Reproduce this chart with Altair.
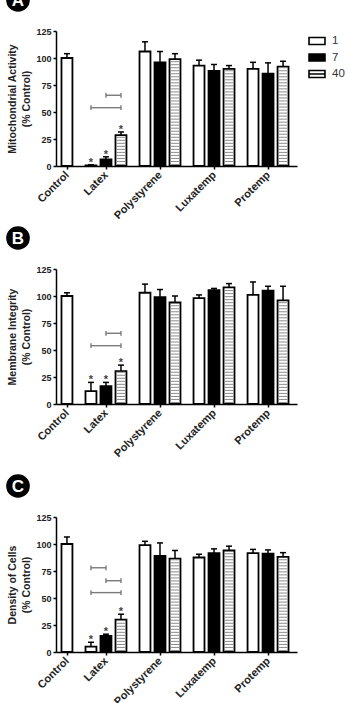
import altair as alt
import pandas as pd

# ---------------- data ----------------
groups = ["Control", "Latex", "Polystyrene", "Luxatemp", "Protemp"]
series = ["1", "7", "40"]

bar_group = ["Control"] + [g for g in groups[1:] for _ in range(3)]
bar_series = ["1"] + series * 4

# Panel A: Mitochondrial Activity (% Control)
mito_mean = [100, 0.6, 6, 28.5, 106, 96, 99, 93, 88, 90, 90, 85.5, 92]
mito_err = [4, 0.6, 2.5, 3, 9, 10, 5, 5, 6, 3, 6, 10, 5]
# Panel B: Membrane Integrity (% Control)
memb_mean = [100, 12, 16.5, 30.5, 103, 99, 94, 98, 105.5, 108, 101, 105, 96]
memb_err = [3, 8, 3.5, 5.5, 8, 7, 6, 3, 1.5, 3.5, 12, 4, 13]
# Panel C: Density of Cells (% Control)
dens_mean = [100, 5, 15, 30, 99, 89, 86.5, 87.5, 91.5, 94, 91.5, 91, 88]
dens_err = [6.5, 4, 1.5, 5, 3.5, 12, 7.5, 3, 4, 4, 3.5, 3.5, 4]

# significance asterisks (Latex bars)
sig_flags = [False, True, True, True] + [False] * 9

# comparison brackets within Latex group: (from series, to series, height)
mito_br_from, mito_br_to, mito_br_at = ["7", "1"], ["40", "40"], [65.5, 54]
memb_br_from, memb_br_to, memb_br_at = ["7", "1"], ["40", "40"], [65.5, 54]
dens_br_from, dens_br_to, dens_br_at = ["1", "7", "1"], ["7", "40", "40"], [78, 66, 55]

# ---------------- layout helpers ----------------
GAP = 0.6
HALF = 0.365


def bar_pos(g_idx, s_idx):
    if g_idx == 0:
        return 0.0
    return round(1.0 + GAP + (g_idx - 1) * (3 + GAP) + s_idx, 3)


tick_vals = [bar_pos(0, 0)] + [bar_pos(g, 1) for g in range(1, 5)]
x_domain = [-0.73, 15.33]
label_expr = "[" + ",".join("'%s'" % g for g in groups) + "][indexof([" + ",".join(
    str(v) for v in tick_vals) + "], datum.value)]"

FONT = "Liberation Sans"
x_scale = alt.Scale(domain=x_domain, nice=False, zero=False)
y_scale = alt.Scale(domain=[0, 125], nice=False)
fill_scale = alt.Scale(domain=series, range=["white", "black", "white"])
stroke_scale = alt.Scale(domain=series, range=["black", "black", "black"])
rect_path = "M-1.14,-0.5H1.14V0.5H-1.14Z"
striped_path = "M-1.14,-0.5H1.14V0.5H-1.14Z M-1.14,0H1.14"
shape_scale = alt.Scale(domain=series, range=[rect_path, rect_path, striped_path])

x_axis = alt.Axis(values=tick_vals, labelExpr=label_expr, title=None, grid=False,
                  labelAngle=315, labelAlign="right", labelBaseline="middle",
                  labelFontSize=11, labelPadding=4, tickSize=3)


def y_axis(title):
    return alt.Axis(values=[0, 25, 50, 75, 100, 125], title=title, grid=False,
                    titleFontSize=10.5, titleLineHeight=14, titlePadding=4,
                    labelFontSize=9, tickSize=3, labelPadding=2)


def make_panel(means, errs, br_from, br_to, br_at, ytitle, letter):
    ya = y_axis(ytitle)

    def X(f):
        return alt.X(f, scale=x_scale, axis=x_axis)

    def Y(f):
        return alt.Y(f, scale=y_scale, axis=ya)

    pos = [bar_pos(groups.index(g), series.index(s)) for g, s in zip(bar_group, bar_series)]
    df = pd.DataFrame({"group": bar_group, "series": bar_series, "mean": means,
                       "err": errs, "sig": sig_flags, "pos": pos})
    base = alt.Chart(df).transform_calculate(
        top="datum.mean + datum.err",
        bl="datum.pos - %f" % HALF,
        br="datum.pos + %f" % HALF,
        cl="datum.pos - 0.2",
        cr="datum.pos + 0.2",
    )

    bars = base.mark_rect(stroke="black", strokeWidth=1.8).encode(
        x=X("bl:Q"),
        x2="br:Q",
        y=Y("mean:Q"),
        y2=alt.Y2(datum=0),
        fill=alt.condition("datum.series == '7'", alt.value("black"), alt.value("white")),
    )

    err_line = base.mark_rule(color="black", strokeWidth=1.5).encode(
        x=X("pos:Q"), y=Y("mean:Q"), y2="top:Q")
    err_cap = base.mark_rule(color="black", strokeWidth=1.5).encode(
        x=X("cl:Q"), x2="cr:Q", y=Y("top:Q"))

    stripes = base.transform_filter("datum.series == '40'").transform_calculate(
        stripe="sequence(1.4, datum.mean - 0.8, 2.8)",
        sl="datum.pos - 0.29",
        sr="datum.pos + 0.29",
    ).transform_flatten(["stripe"]).mark_rule(color="#8c8c8c", strokeWidth=1).encode(
        x=X("sl:Q"), x2="sr:Q", y=Y("stripe:Q"))

    stars = base.transform_filter("datum.sig").mark_text(
        text="*", font=FONT, fontSize=11, fontWeight="bold", color="#444",
        baseline="alphabetic", dy=1).encode(x=X("pos:Q"), y=Y("top:Q"))

    latex_pos = {s: bar_pos(1, i) for i, s in enumerate(series)}
    bdf = pd.DataFrame({"from": br_from, "to": br_to, "at": br_at})
    bdf["xa"] = [latex_pos[s] for s in bdf["from"]]
    bdf["xb"] = [latex_pos[s] for s in bdf["to"]]
    bbase = alt.Chart(bdf)
    br_line = bbase.mark_rule(color="#7a7a7a", strokeWidth=1.4).encode(
        x=X("xa:Q"), x2="xb:Q", y=Y("at:Q"))
    br_caps = bbase.transform_fold(["xa", "xb"], as_=["end", "xe"]).transform_calculate(
        lo="datum.at - 2.2", hi="datum.at + 2.2").mark_rule(
        color="#7a7a7a", strokeWidth=1.4).encode(x=X("xe:Q"), y=Y("lo:Q"), y2="hi:Q")

    leg = alt.Legend(
        title=None, orient="right", offset=10, padding=2,
        symbolSize=196, symbolStrokeWidth=1.6,
        labelFont=FONT, labelFontSize=11.5, labelColor="#333",
        labelOffset=7, rowPadding=1.5)
    legend_pts = base.transform_filter("false").mark_point(
        filled=True, strokeWidth=1.6, opacity=1).encode(
        fill=alt.Fill("series:N", scale=fill_scale, legend=leg),
        shape=alt.Shape("series:N", scale=shape_scale, legend=leg),
        stroke=alt.Stroke("series:N", scale=stroke_scale, legend=leg),
    )

    ldf = pd.DataFrame({"letter": [letter]})
    badge = alt.Chart(ldf).mark_circle(size=560, color="black", opacity=1).encode(
        x=alt.value(-38), y=alt.value(-31))
    badge_txt = alt.Chart(ldf).mark_text(
        font=FONT, fontSize=17, fontWeight="bold", color="white",
        align="center", baseline="middle", dy=1).encode(
        x=alt.value(-38), y=alt.value(-31), text="letter:N")

    return alt.layer(err_line, err_cap, bars, stripes, stars, br_line, br_caps,
                     legend_pts, badge, badge_txt).properties(width=241, height=135)


pA = make_panel(mito_mean, mito_err, mito_br_from, mito_br_to, mito_br_at,
                ["Mitochondrial Activity", "(% Control)"], "A")
pB = make_panel(memb_mean, memb_err, memb_br_from, memb_br_to, memb_br_at,
                ["Membrane Integrity", "(% Control)"], "B")
pC = make_panel(dens_mean, dens_err, dens_br_from, dens_br_to, dens_br_at,
                ["Density of Cells", "(% Control)"], "C")

chart = alt.vconcat(alt.vconcat(pA, pB, spacing=5), pC, spacing=15).properties(
    padding={"left": 6, "top": -12, "right": 0, "bottom": 0}
).configure_view(stroke=None).configure_axis(
    domainColor="black", domainWidth=1.5, tickColor="black", tickWidth=1.5,
    labelFont=FONT, labelFontWeight="bold", labelColor="#222",
    titleFont=FONT, titleFontWeight="bold", titleColor="#222",
)

chart.save("out.html", embed_options={"renderer": "svg", "actions": False})
